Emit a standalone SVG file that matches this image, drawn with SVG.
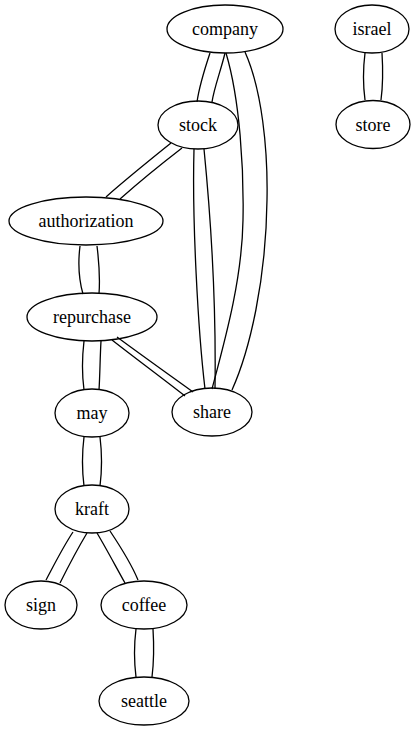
<svg xmlns="http://www.w3.org/2000/svg" width="419" height="731" viewBox="0 0 419 731">
<style>
ellipse{fill:none;stroke:#000;stroke-width:1.3}
text{font-family:"Liberation Serif","Times New Roman",serif;font-size:18px;text-anchor:middle;fill:#000}
#edges path{fill:none;stroke:#000;stroke-width:1.3}
</style>
<rect width="419" height="731" fill="#fff"/>
<g id="edges">
<path d="M210,53 C205,68 199,88 197,102"/>
<path d="M225,53 C221,70 214,88 212,102"/>
<path d="M226,53 C240,100 244,170 243,220 C242,280 225,340 212,389"/>
<path d="M245,52 C262,90 268,150 267,200 C266,280 250,350 232,390"/>
<path d="M194,149 C192,220 198,330 205,389"/>
<path d="M204,149 C212,230 216,320 215,389"/>
<path d="M171,143 C150,160 125,180 106,197"/>
<path d="M182,148 C160,165 138,183 120,199"/>
<path d="M80,246 C78,262 79,280 83,294"/>
<path d="M97,246 C99,262 100,280 99,294"/>
<path d="M84,341 C82,358 82,375 84,390"/>
<path d="M101,341 C100,358 100,375 99,390"/>
<path d="M112,340 C135,358 162,378 185,396"/>
<path d="M117,337 C140,354 168,374 193,392"/>
<path d="M84,437 C82,453 82,470 84,486"/>
<path d="M100,437 C102,453 102,470 100,486"/>
<path d="M73,532 C63,547 54,565 46,580"/>
<path d="M87,533 C78,548 68,567 60,583"/>
<path d="M97,533 C106,548 116,567 125,583"/>
<path d="M110,531 C120,546 131,563 138,580"/>
<path d="M136,629 C134,645 134,661 136,677"/>
<path d="M153,629 C154,645 154,661 152,677"/>
<path d="M365,53 C363,69 363,85 365,100"/>
<path d="M382,53 C383,69 383,85 381,100"/>
</g>
<g id="company"><ellipse cx="225" cy="29" rx="58" ry="24"/><text x="225" y="35">company</text></g>
<g id="israel"><ellipse cx="372" cy="29" rx="37" ry="24"/><text x="372" y="35">israel</text></g>
<g id="stock"><ellipse cx="198" cy="125" rx="40" ry="24"/><text x="198" y="131">stock</text></g>
<g id="store"><ellipse cx="373" cy="124.5" rx="37" ry="24"/><text x="373" y="130.5">store</text></g>
<g id="authorization"><ellipse cx="86" cy="221" rx="77" ry="24"/><text x="86" y="227">authorization</text></g>
<g id="repurchase"><ellipse cx="92" cy="317" rx="65" ry="24"/><text x="92" y="323">repurchase</text></g>
<g id="may"><ellipse cx="92" cy="413" rx="37" ry="24"/><text x="92" y="419">may</text></g>
<g id="share"><ellipse cx="212" cy="412" rx="40" ry="24"/><text x="212" y="418">share</text></g>
<g id="kraft"><ellipse cx="92" cy="509" rx="37" ry="24"/><text x="92" y="515">kraft</text></g>
<g id="sign"><ellipse cx="41" cy="605" rx="36" ry="24"/><text x="41" y="611">sign</text></g>
<g id="coffee"><ellipse cx="144" cy="605" rx="43" ry="24"/><text x="144" y="611">coffee</text></g>
<g id="seattle"><ellipse cx="144" cy="701" rx="45" ry="24"/><text x="144" y="707">seattle</text></g>
</svg>
